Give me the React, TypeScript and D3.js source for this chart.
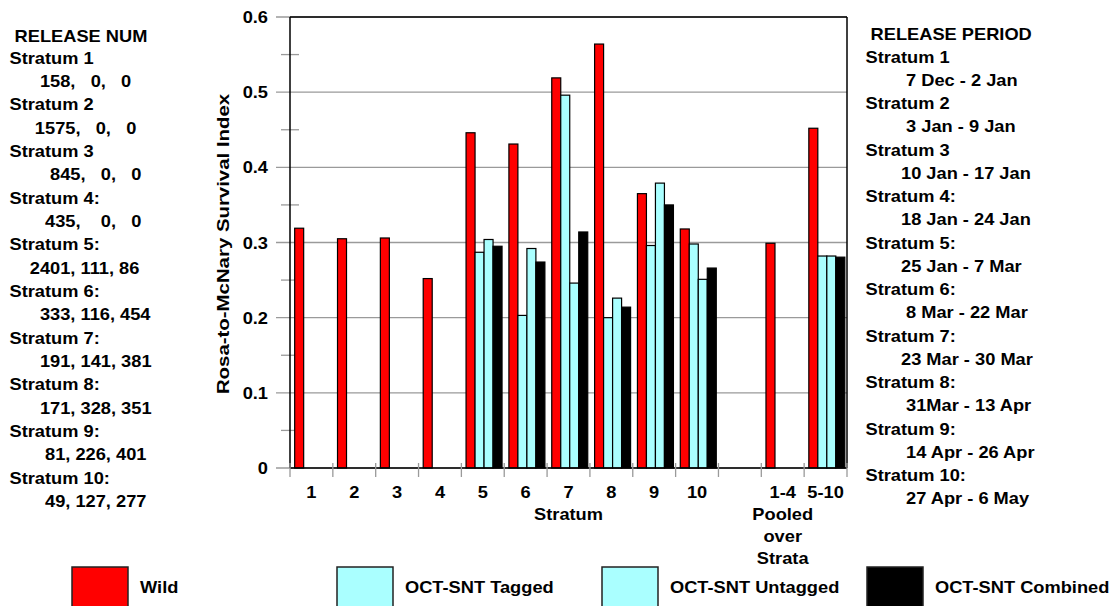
import React from "react";
import * as d3 from "d3";

// categories along the x axis ("" is the empty slot between strata and pooled)
const categories = ["1", "2", "3", "4", "5", "6", "7", "8", "9", "10", "", "1-4", "5-10"];
const seriesNames = ["Wild", "OCT-SNT Tagged", "OCT-SNT Untagged", "OCT-SNT Combined"];
const seriesColors = ["#ff0000", "#aaffff", "#aaffff", "#000000"];

const wild = [0.319, 0.305, 0.306, 0.252, 0.446, 0.431, 0.519, 0.564, 0.365, 0.318, null, 0.299, 0.452];
const tagged = [null, null, null, null, 0.287, 0.203, 0.496, 0.2, 0.296, 0.298, null, null, 0.282];
const untagged = [null, null, null, null, 0.304, 0.292, 0.246, 0.226, 0.379, 0.251, null, null, 0.282];
const combined = [null, null, null, null, 0.295, 0.274, 0.314, 0.214, 0.35, 0.266, null, null, 0.2805];

const yTicks = [0, 0.1, 0.2, 0.3, 0.4, 0.5, 0.6];
const yMinorTicks = [0.05, 0.15, 0.25, 0.35, 0.45, 0.55];
const pooledLabel = ["Pooled", "over", "Strata"];

const numHeader = " RELEASE NUM";
const numStrata = ["Stratum 1", "Stratum 2", "Stratum 3", "Stratum 4:", "Stratum 5:", "Stratum 6:", "Stratum 7:", "Stratum 8:", "Stratum 9:", "Stratum 10:"];
const releaseNums = [
  "      158,   0,   0",
  "     1575,   0,   0",
  "        845,   0,   0",
  "       435,    0,   0",
  "    2401, 111, 86",
  "      333, 116, 454",
  "      191, 141, 381",
  "      171, 328, 351",
  "       81, 226, 401",
  "       49, 127, 277",
];
const periodHeader = " RELEASE PERIOD";
const periodStrata = ["Stratum 1", "Stratum 2", "Stratum 3", "Stratum 4:", "Stratum 5:", "Stratum 6:", "Stratum 7:", "Stratum 8:", "Stratum 9:", "Stratum 10:"];
const releasePeriods = [
  "        7 Dec - 2 Jan",
  "        3 Jan - 9 Jan",
  "       10 Jan - 17 Jan",
  "       18 Jan - 24 Jan",
  "       25 Jan - 7 Mar",
  "        8 Mar - 22 Mar",
  "       23 Mar - 30 Mar",
  "        31Mar - 13 Apr",
  "        14 Apr - 26 Apr",
  "        27 Apr - 6 May",
];

const SX = 1.12; // the source is a bit wider than tall
const FS = 16.3;
const FONT = "'Liberation Sans', Arial, sans-serif";

const Txt = ({ x, y, anchor = "start", children, size = FS }: any) => (
  <text
    transform={`translate(${x},${y}) scale(${SX},1)`}
    textAnchor={anchor}
    fontSize={size}
    fontWeight="bold"
    fontFamily={FONT}
    fill="#000"
    style={{ whiteSpace: "pre" }}
  >
    {children}
  </text>
);

export default function App() {
  const left = 290, right = 847, top = 17, bottom = 468;
  const x = d3.scaleBand<number>().domain(d3.range(categories.length)).range([left, right]);
  const bw = x.bandwidth();
  const sub = d3.scaleBand<number>().domain(d3.range(4)).range([0.109 * bw, 0.949 * bw]);
  const y = d3.scaleLinear().domain([0, 0.6]).range([bottom, top]);
  const series = [wild, tagged, untagged, combined];
  const leftStep = 23.35;
  const rightStep = 23.25;

  return (
    <svg width={1117} height={606} style={{ display: "block" }}>
      <style>{`body{margin:0}`}</style>
      <rect width={1117} height={606} fill="#fff" />

      {/* gridlines & y ticks */}
      {yTicks.map((t) => (
        <g key={t}>
          <line x1={276} x2={right} y1={y(t)} y2={y(t)} stroke="#9a9a9a" strokeWidth={1.3} />
          <Txt x={268} y={y(t) + 6} anchor="end">{t === 0 ? "0" : d3.format(".1f")(t)}</Txt>
        </g>
      ))}
      {yMinorTicks.map((t) => (
        <line key={t} x1={281} x2={299} y1={y(t)} y2={y(t)} stroke="#9a9a9a" strokeWidth={1.3} />
      ))}

      {/* bars */}
      {series.map((vals, s) =>
        vals.map((v, i) =>
          v == null ? null : (
            <rect
              key={`${s}-${i}`}
              x={(x(i) as number) + (sub(s) as number)}
              y={y(v)}
              width={sub.bandwidth()}
              height={y(0) - y(v)}
              fill={seriesColors[s]}
              stroke="#000"
              strokeWidth={1.2}
            />
          )
        )
      )}

      {/* frame */}
      <line x1={left} x2={right} y1={top} y2={top} stroke="#000" strokeWidth={1.5} />
      <line x1={right} x2={right} y1={top} y2={bottom} stroke="#000" strokeWidth={1.5} />
      <line x1={left} x2={left} y1={top} y2={bottom} stroke="#000" strokeWidth={1.5} />
      <line x1={left} x2={right} y1={bottom} y2={bottom} stroke="#000" strokeWidth={1.5} />

      {/* x ticks & labels */}
      {d3.range(categories.length + 1).map((i) => (
        <line key={i} x1={left + i * bw} x2={left + i * bw} y1={bottom - 5} y2={bottom + 9} stroke="#9a9a9a" strokeWidth={1.3} />
      ))}
      {categories.map((c, i) => (
        <Txt key={i} x={(x(i) as number) + bw / 2} y={498} anchor="middle">{c}</Txt>
      ))}
      <Txt x={(left + right) / 2} y={520} anchor="middle">Stratum</Txt>
      {pooledLabel.map((l, k) => (
        <Txt key={l} x={(x(11) as number) + bw / 2} y={520 + k * 22} anchor="middle">{l}</Txt>
      ))}

      {/* y title */}
      <text
        transform={`translate(229,244) rotate(-90) scale(1.2,1)`}
        textAnchor="middle"
        fontSize={17}
        fontWeight="bold"
        fontFamily={FONT}
      >
        Rosa-to-McNary Survival Index
      </text>

      {/* left notes */}
      <Txt x={9.5} y={42}>{numHeader}</Txt>
      {numStrata.map((s, i) => (
        <g key={s}>
          <Txt x={9.5} y={63.5 + 2 * i * leftStep}>{s}</Txt>
          <Txt x={9.5} y={63.5 + (2 * i + 1) * leftStep}>{releaseNums[i]}</Txt>
        </g>
      ))}

      {/* right notes */}
      <Txt x={865.5} y={39.5}>{periodHeader}</Txt>
      {periodStrata.map((s, i) => (
        <g key={s}>
          <Txt x={865.5} y={62.5 + 2 * i * rightStep}>{s}</Txt>
          <Txt x={865.5} y={62.5 + (2 * i + 1) * rightStep}>{releasePeriods[i]}</Txt>
        </g>
      ))}

      {/* legend */}
      {seriesNames.map((n, i) => (
        <g key={n} transform={`translate(${72 + i * 265},0)`}>
          <rect x={0} y={567} width={56} height={45} fill={seriesColors[i]} stroke="#222" strokeWidth={1.5} />
          <Txt x={68} y={592.5}>{n}</Txt>
        </g>
      ))}
    </svg>
  );
}
